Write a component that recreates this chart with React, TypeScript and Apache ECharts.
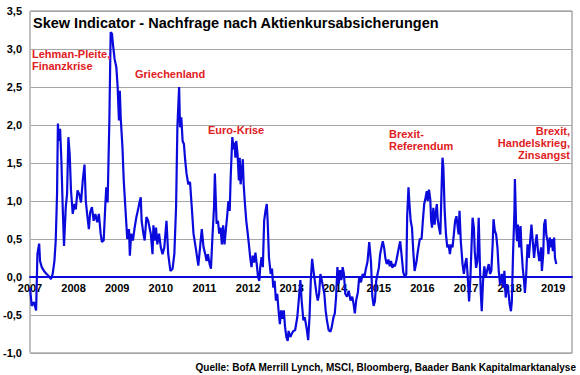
import React, { useEffect, useRef } from "react";
import * as echarts from "echarts";

const titleText = "Skew Indicator - Nachfrage nach Aktienkursabsicherungen";
const sourceText = "Quelle: BofA Merrill Lynch, MSCI, Bloomberg, Baader Bank Kapitalmarktanalyse";

const yTicks = [-1.0, -0.5, 0.0, 0.5, 1.0, 1.5, 2.0, 2.5, 3.0, 3.5];
const yearTicks = [2007, 2008, 2009, 2010, 2011, 2012, 2013, 2014, 2015, 2016, 2017, 2018, 2019];

const dates = [
  2007.00, 2007.04, 2007.09, 2007.14, 2007.17, 2007.21, 2007.23, 2007.27, 2007.32, 2007.38,
  2007.45, 2007.48, 2007.52, 2007.56, 2007.59, 2007.62, 2007.64, 2007.66, 2007.69, 2007.72,
  2007.75, 2007.78, 2007.82, 2007.85, 2007.88, 2007.91, 2007.94, 2007.98, 2008.02, 2008.05,
  2008.09, 2008.13, 2008.17, 2008.21, 2008.25, 2008.28, 2008.31, 2008.35, 2008.38, 2008.42,
  2008.46, 2008.50, 2008.54, 2008.58, 2008.62, 2008.65, 2008.69, 2008.73, 2008.75, 2008.78,
  2008.82, 2008.85, 2008.88, 2008.91, 2008.94, 2008.98, 2009.01, 2009.04, 2009.06, 2009.08,
  2009.12, 2009.15, 2009.20, 2009.23, 2009.27, 2009.29, 2009.32, 2009.36, 2009.40, 2009.44,
  2009.48, 2009.51, 2009.54, 2009.56, 2009.60, 2009.63, 2009.67, 2009.71, 2009.74, 2009.77,
  2009.81, 2009.83, 2009.86, 2009.89, 2009.92, 2009.96, 2010.00, 2010.04, 2010.08, 2010.13,
  2010.17, 2010.22, 2010.27, 2010.31, 2010.35, 2010.38, 2010.42, 2010.44, 2010.47, 2010.50,
  2010.53, 2010.56, 2010.59, 2010.63, 2010.67, 2010.71, 2010.75, 2010.81, 2010.86, 2010.90,
  2010.94, 2010.98, 2011.02, 2011.05, 2011.08, 2011.12, 2011.15, 2011.18, 2011.22, 2011.24,
  2011.28, 2011.31, 2011.34, 2011.37, 2011.40, 2011.43, 2011.46, 2011.49, 2011.52, 2011.55,
  2011.58, 2011.60, 2011.62, 2011.64, 2011.67, 2011.69, 2011.71, 2011.73, 2011.76, 2011.79,
  2011.81, 2011.83, 2011.86, 2011.88, 2011.90, 2011.93, 2011.96, 2011.99, 2012.02, 2012.05,
  2012.08, 2012.11, 2012.14, 2012.17, 2012.20, 2012.23, 2012.26, 2012.28, 2012.31, 2012.34,
  2012.37, 2012.40, 2012.43, 2012.45, 2012.48, 2012.52, 2012.55, 2012.58, 2012.61, 2012.64,
  2012.67, 2012.70, 2012.73, 2012.76, 2012.79, 2012.82, 2012.85, 2012.88, 2012.91, 2012.93,
  2012.97, 2013.00, 2013.04, 2013.08, 2013.13, 2013.17, 2013.20, 2013.23, 2013.27, 2013.30,
  2013.34, 2013.38, 2013.41, 2013.44, 2013.47, 2013.50, 2013.53, 2013.57, 2013.60, 2013.63,
  2013.66, 2013.69, 2013.72, 2013.75, 2013.78, 2013.81, 2013.85, 2013.89, 2013.92, 2013.96,
  2013.99, 2014.02, 2014.05, 2014.08, 2014.11, 2014.14, 2014.17, 2014.20, 2014.23, 2014.27,
  2014.31, 2014.35, 2014.39, 2014.42, 2014.45, 2014.48, 2014.52, 2014.55, 2014.59, 2014.63,
  2014.67, 2014.70, 2014.74, 2014.78, 2014.82, 2014.85, 2014.88, 2014.91, 2014.94, 2014.97,
  2015.00, 2015.03, 2015.06, 2015.09, 2015.12, 2015.15, 2015.18, 2015.22, 2015.25, 2015.28,
  2015.31, 2015.34, 2015.37, 2015.40, 2015.43, 2015.46, 2015.49, 2015.52, 2015.56, 2015.60,
  2015.63, 2015.65, 2015.68, 2015.70, 2015.73, 2015.76, 2015.79, 2015.82, 2015.86, 2015.90,
  2015.94, 2015.98, 2016.01, 2016.04, 2016.07, 2016.10, 2016.12, 2016.15, 2016.18, 2016.20,
  2016.22, 2016.25, 2016.28, 2016.30, 2016.33, 2016.35, 2016.38, 2016.41, 2016.44, 2016.46,
  2016.48, 2016.51, 2016.54, 2016.57, 2016.60, 2016.63, 2016.66, 2016.69, 2016.72, 2016.75,
  2016.78, 2016.81, 2016.83, 2016.85, 2016.88, 2016.92, 2016.95, 2016.98, 2017.01, 2017.04,
  2017.07, 2017.10, 2017.13, 2017.15, 2017.18, 2017.20, 2017.23, 2017.26, 2017.29, 2017.32,
  2017.34, 2017.36, 2017.39, 2017.42, 2017.45, 2017.48, 2017.52, 2017.55, 2017.58, 2017.61,
  2017.63, 2017.66, 2017.69, 2017.72, 2017.75, 2017.78, 2017.82, 2017.85, 2017.88, 2017.91,
  2017.94, 2017.97, 2018.00, 2018.03, 2018.05, 2018.08, 2018.11, 2018.12, 2018.15, 2018.17,
  2018.19, 2018.22, 2018.25, 2018.27, 2018.30, 2018.33, 2018.35, 2018.38, 2018.41, 2018.44,
  2018.47, 2018.50, 2018.53, 2018.56, 2018.59, 2018.62, 2018.65, 2018.68, 2018.72, 2018.74,
  2018.77, 2018.79, 2018.82, 2018.84, 2018.87, 2018.89, 2018.92, 2018.95, 2018.97, 2018.99,
  2019.02, 2019.04, 2019.07,
];

const skew = [
  -0.14, -0.38, -0.33, -0.44, 0.30, 0.44, 0.21, 0.13, 0.08, 0.04,
  0.00, -0.03, 0.04, 0.21, 0.48, 1.09, 2.02, 1.79, 1.95, 1.53,
  0.92, 0.41, 0.92, 1.09, 1.84, 1.62, 1.14, 0.83, 0.96, 0.89,
  1.14, 1.09, 0.98, 1.27, 1.48, 1.00, 0.83, 0.63, 0.85, 0.92,
  0.74, 0.83, 0.72, 0.83, 0.57, 0.46, 0.48, 0.98, 1.18, 0.98,
  2.06, 3.22, 3.20, 3.02, 2.87, 2.76, 2.50, 2.06, 2.45, 2.10,
  1.71, 1.27, 0.79, 0.50, 0.63, 0.28, 0.57, 0.48, 0.65, 0.79,
  0.89, 0.98, 1.05, 0.74, 0.57, 0.48, 0.79, 0.74, 0.65, 0.57,
  0.30, 0.68, 0.48, 0.65, 0.43, 0.57, 0.39, 0.30, 0.39, 0.74,
  0.30, 0.08, 0.11, 0.30, 0.92, 1.97, 2.50, 1.97, 2.10, 1.79,
  1.75, 1.53, 1.36, 1.22, 1.25, 0.92, 0.57, 0.35, 0.15, 0.39,
  0.63, 0.39, 0.30, 0.21, 0.30, 0.17, 0.11, 0.48, 0.92, 1.36,
  0.70, 0.74, 0.57, 0.65, 0.43, 0.68, 0.43, 0.61, 0.79, 1.00,
  0.87, 1.27, 1.57, 1.84, 1.68, 1.77, 1.57, 1.79, 1.62, 1.27,
  1.57, 1.22, 1.40, 1.55, 1.22, 0.96, 0.74, 0.59, 0.43, 0.26,
  0.13, 0.28, 0.19, 0.32, 0.17, 0.00, -0.05, 0.13, 0.26, 0.13,
  0.74, 0.87, 0.96, 0.74, 0.26, 0.04, 0.11, -0.14, -0.05, -0.31,
  -0.22, -0.44, -0.62, -0.44, -0.55, -0.44, -0.66, -0.79, -0.84, -0.71,
  -0.79, -0.75, -0.71, -0.70, -0.53, -0.26, -0.04, -0.31, -0.57, -0.53,
  -0.66, -0.83, -0.53, -0.04, 0.24, 0.09, -0.04, -0.22, -0.31, -0.22,
  0.04, -0.04, -0.13, -0.22, -0.44, -0.57, -0.70, -0.72, -0.66, -0.53,
  -0.48, -0.26, 0.13, -0.09, 0.09, -0.04, 0.13, 0.04, -0.22, -0.26,
  -0.18, -0.31, -0.26, -0.35, -0.48, -0.31, -0.20, 0.00, -0.07, 0.04,
  0.00, 0.10, 0.20, 0.46, 0.20, -0.25, -0.38, -0.32, -0.05, 0.04,
  0.12, 0.30, 0.39, 0.47, 0.39, 0.25, 0.17, 0.23, 0.14, 0.21,
  0.12, 0.17, 0.14, 0.21, 0.30, 0.39, 0.47, 0.30, 0.06, 0.00,
  0.04, 0.80, 1.18, 0.98, 0.74, 0.65, 0.34, 0.08, 0.19, 0.36,
  0.50, 0.50, 0.74, 0.96, 1.04, 1.13, 1.00, 1.15, 1.02, 0.74,
  0.65, 0.91, 0.69, 0.82, 0.96, 0.76, 0.65, 0.56, 1.18, 1.57,
  1.44, 0.87, 0.56, 0.39, 0.43, 0.30, 0.43, 0.39, 0.56, 0.74,
  0.80, 0.65, 0.56, 0.87, 0.47, 0.17, 0.04, 0.17, 0.25, -0.01,
  -0.32, -0.01, 0.47, 0.78, 0.65, 0.34, 0.12, 0.21, 0.78, 0.12,
  -0.23, -0.45, -0.05, 0.14, -0.01, 0.08, 0.17, 0.04, 0.08, 0.43,
  0.76, 0.61, 0.56, 0.39, 0.08, -0.10, 0.04, -0.14, 0.08, -0.27,
  -0.10, -0.18, -0.36, -0.45, -0.32, 0.34, 0.87, 1.29, 0.65, 0.47,
  0.69, 0.39, 0.67, 0.39, 0.12, -0.05, -0.21, 0.04, 0.43, 0.25,
  0.47, 0.69, 0.47, 0.25, 0.43, 0.56, 0.34, 0.21, 0.39, 0.08,
  0.30, 0.69, 0.76, 0.56, 0.47, 0.30, 0.52, 0.39, 0.50, 0.34,
  0.52, 0.25, 0.17,
];

const annotations = [
  { text: "Lehman-Pleite,\nFinanzkrise", x: 32, y: 48, align: "left" },
  { text: "Griechenland", x: 135, y: 68, align: "left" },
  { text: "Euro-Krise", x: 208, y: 124, align: "left" },
  { text: "Brexit-\nReferendum", x: 389, y: 128, align: "left" },
  { text: "Brexit,\nHandelskrieg,\nZinsangst", x: 570, y: 125, align: "right" },
];

const FONT = "'Liberation Sans', Arial, sans-serif";
const BLUE = "#0a0adc";
const RED = "#e0201e";

const GRID_TOP = 11;
const GRID_BOTTOM = 22;
const CHART_H = 375;

export default function App() {
  const ref = useRef<HTMLDivElement>(null);

  useEffect(() => {
    if (!ref.current) return;
    const chart = echarts.init(ref.current, undefined, { renderer: "svg" });
    const data = dates.map((d, i) => [d, skew[i]]);
    const isInt = (v: number) => Math.abs(v - Math.round(v)) < 1e-6;
    const yMin = yTicks[0];
    const yMax = yTicks[yTicks.length - 1];
    const plotH = CHART_H - GRID_TOP - GRID_BOTTOM;
    // shift the x axis (line + labels) from the bottom edge up to the value 0
    const zeroOffset = -((0 - yMin) / (yMax - yMin)) * plotH;

    chart.setOption({
      animation: false,
      backgroundColor: "#ffffff",
      grid: {
        left: 30,
        right: 8,
        top: GRID_TOP,
        bottom: GRID_BOTTOM,
        show: true,
        borderColor: "#7f7f7f",
        borderWidth: 1,
        containLabel: false,
      },
      xAxis: {
        type: "value",
        min: 2007,
        max: 2019.43,
        interval: 1,
        position: "bottom",
        offset: zeroOffset,
        axisLine: { show: true, onZero: false, lineStyle: { color: BLUE, width: 2 } },
        axisTick: { show: false },
        splitLine: { show: false },
        axisLabel: {
          margin: 5,
          color: "#000",
          fontFamily: FONT,
          fontWeight: "bold",
          fontSize: 11,
          showMaxLabel: false,
          formatter: (v: number) => (isInt(v) && yearTicks.includes(Math.round(v)) ? String(Math.round(v)) : ""),
        },
        z: 1,
      },
      yAxis: {
        type: "value",
        min: yMin,
        max: yMax,
        interval: 0.5,
        axisLine: { show: true, lineStyle: { color: "#bfbfbf", width: 1 } },
        axisTick: { show: false },
        splitLine: { show: true, lineStyle: { color: "#a6a6a6", width: 1 } },
        axisLabel: {
          margin: 8,
          color: "#000",
          fontFamily: FONT,
          fontWeight: "bold",
          fontSize: 11,
          formatter: (v: number) => v.toFixed(1).replace(".", ","),
        },
        z: 0,
      },
      series: [
        {
          type: "line",
          data,
          showSymbol: false,
          symbol: "none",
          lineStyle: { color: BLUE, width: 2.2 },
          z: 3,
        },
      ],
      graphic: [
        {
          type: "text",
          x: 33,
          y: 15,
          style: { text: titleText, fill: "#000", font: `bold 14.5px ${FONT}`, verticalAlign: "top" },
          z: 10,
        },
        ...annotations.map((a) => ({
          type: "text",
          x: a.x,
          y: a.y,
          style: {
            text: a.text,
            fill: RED,
            font: `bold 11px ${FONT}`,
            align: a.align,
            verticalAlign: "top",
            lineHeight: 12,
          },
          z: 10,
        })),
        {
          type: "text",
          x: 576,
          y: 362,
          style: {
            text: sourceText,
            fill: "#000",
            font: `bold 10px ${FONT}`,
            align: "right",
            verticalAlign: "top",
          },
          z: 10,
        },
      ],
    });

    return () => chart.dispose();
  }, []);

  return <div ref={ref} style={{ width: 580, height: 375, position: "absolute", left: 0, top: 0 }} />;
}
